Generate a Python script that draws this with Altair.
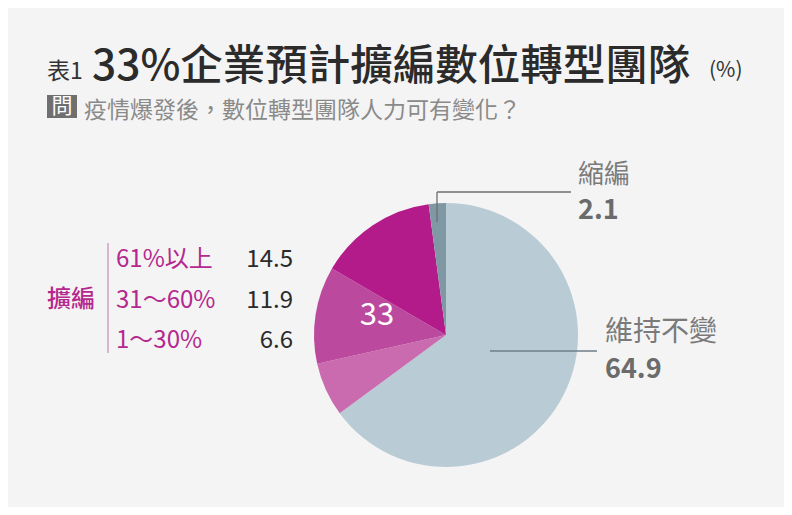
import altair as alt
import pandas as pd

# ---- data ----
categories = ["維持不變", "1～30%", "31～60%", "61%以上", "縮編"]
values = [64.9, 6.6, 11.9, 14.5, 2.1]
colors = ["#b9cbd4", "#c96bae", "#bb4a9e", "#b41b8a", "#7f98a4"]
expand_labels = ["61%以上", "31～60%", "1～30%"]
expand_values = ["14.5", "11.9", "6.6"]
expand_total = "33"
title_prefix = "表1"
title_main = "33%企業預計擴編數位轉型團隊"
title_unit = "(%)"
question_tag = "問"
question = "疫情爆發後，數位轉型團隊人力可有變化？"

FONT = "Noto Sans CJK TC"
OX, OY = 8, 8  # page margin offset

pie_df = pd.DataFrame({"cat": categories, "val": values, "ord": list(range(len(categories)))})

pie = alt.Chart(pie_df).mark_arc(outerRadius=132, stroke=None).encode(
    theta=alt.Theta("val:Q", stack=True),
    order=alt.Order("ord:Q"),
    color=alt.Color("cat:N", scale=alt.Scale(domain=categories, range=colors), legend=None),
    x=alt.value(446 - OX),
    y=alt.value(335 - OY),
)


def txt(s, x, y, size, color, weight="normal", align="left", baseline="alphabetic"):
    return alt.Chart(pd.DataFrame({"t": [s]})).mark_text(
        font=FONT, fontSize=size, color=color, fontWeight=weight,
        align=align, baseline=baseline,
    ).encode(text="t:N", x=alt.value(x - OX), y=alt.value(y - OY))


layers = [pie]

# title
layers.append(txt(title_prefix, 47, 79, 23, "#333333"))
layers.append(txt(title_main, 92, 80, 42.5, "#2b2b2b", weight=500))
layers.append(txt(title_unit, 709, 77, 21, "#333333"))

# question
box = alt.Chart(pd.DataFrame({"t": [question_tag]})).mark_rect(color="#6f6f6f").encode(
    x=alt.value(47 - OX), x2=alt.value(77 - OX), y=alt.value(95 - OY), y2=alt.value(118 - OY)
)
layers.append(box)
layers.append(txt(question_tag, 62, 107, 21, "#ffffff", align="center", baseline="middle"))
layers.append(txt(question, 84, 118, 23, "#8a8a8a"))

# expand legend
layers.append(txt("擴編", 47, 300, 24, "#b5288f", weight=500, baseline="middle"))
vline = alt.Chart(pd.DataFrame({"a": [0]})).mark_rule(color="#c58ab8", strokeWidth=1.2).encode(
    x=alt.value(108 - OX), y=alt.value(243 - OY), y2=alt.value(353 - OY)
)
layers.append(vline)
leg_df = pd.DataFrame({"lab": expand_labels, "v": expand_values})
leg_y = alt.Y("lab:N", scale=alt.Scale(type="point", domain=expand_labels,
                                       range=[260 - OY, 341 - OY], padding=0), axis=None)
layers.append(alt.Chart(leg_df).mark_text(font=FONT, fontSize=24, color="#b5288f", align="left", baseline="middle").encode(
    text="lab:N", x=alt.value(116 - OX), y=leg_y))
layers.append(alt.Chart(leg_df).mark_text(font=FONT, fontSize=24, color="#2b2b2b", align="right", baseline="middle").encode(
    text="v:N", x=alt.value(293 - OX), y=leg_y))

# 33 in pie
layers.append(txt(expand_total, 377, 316, 31, "#ffffff", align="center", baseline="middle"))

# shrink label
lead1 = alt.Chart(pd.DataFrame({"a": [0]})).mark_rule(color="#6f6f6f", strokeWidth=1.3).encode(
    x=alt.value(437 - OX), y=alt.value(192 - OY), y2=alt.value(222 - OY))
lead2 = alt.Chart(pd.DataFrame({"a": [0]})).mark_rule(color="#6f6f6f", strokeWidth=1.3).encode(
    x=alt.value(437 - OX), x2=alt.value(571 - OX), y=alt.value(192 - OY))
layers += [lead1, lead2]
layers.append(txt(categories[4], 578, 175, 26, "#7a7a7a", baseline="middle"))
layers.append(txt(f"{values[4]}", 578, 211, 27, "#6b6b6b", weight="bold", baseline="middle"))

# keep label
lead3 = alt.Chart(pd.DataFrame({"a": [0]})).mark_rule(color="#6f7f88", strokeWidth=1.5).encode(
    x=alt.value(490 - OX), x2=alt.value(597 - OX), y=alt.value(351 - OY))
layers.append(lead3)
layers.append(txt(categories[0], 605, 333, 28, "#7a7a7a", baseline="middle"))
layers.append(txt(f"{values[0]}", 605, 370, 27, "#6b6b6b", weight="bold", baseline="middle"))

chart = alt.layer(*layers).properties(
    width=776, height=499, padding=0, autosize=alt.AutoSizeParams(type="none"),
    background="#f4f4f4",
).configure_view(stroke=None)

chart.save("out.html", embed_options={"renderer": "svg", "actions": False})
